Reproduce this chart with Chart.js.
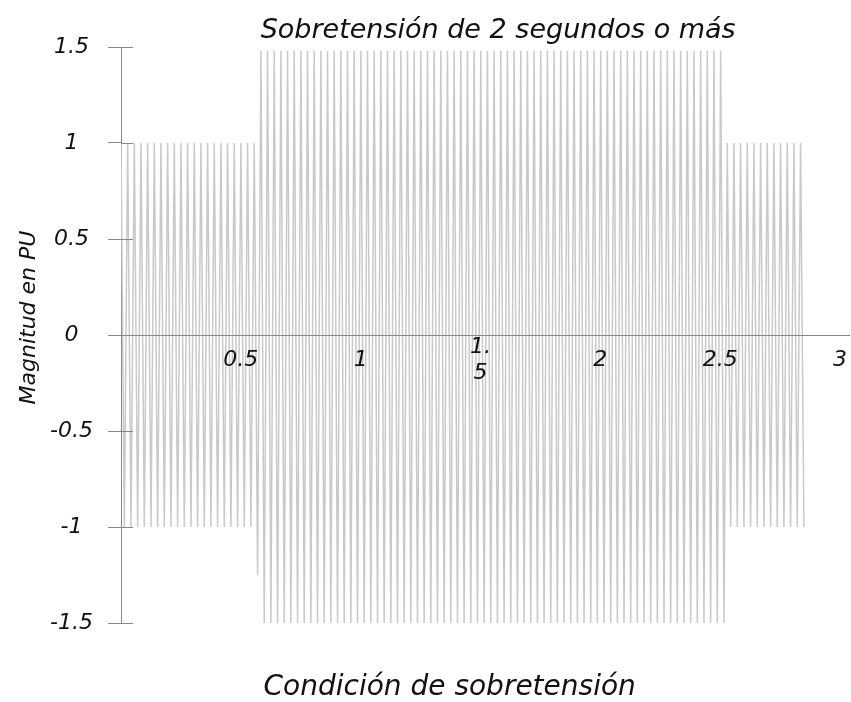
<!DOCTYPE html>
<html><head><meta charset="utf-8">
<script src="https://cdn.jsdelivr.net/npm/chart.js@4"></script>
<style>html,body{margin:0;padding:0;background:#fff}</style>
</head><body>
<canvas id="c" width="851" height="702"></canvas>
<script>
const chartTitle = '\u00A0\u00A0\u00A0Sobretensión de 2 segundos o más';
const xAxisTitle = 'Condición de sobretensión\u00A0\u00A0\u00A0\u00A0\u00A0\u00A0\u00A0\u00A0';
const yAxisTitle = '\u00A0\u00A0\u00A0\u00A0\u00A0Magnitud en PU';
const xTickValues = [0.5, 1, 1.5, 2, 2.5, 3];
const yTickValues = [-1.5, -1, -0.5, 0, 0.5, 1, 1.5];

// sample times (s)
const timeSeconds = [
 0, 0.0139, 0.0278, 0.0417, 0.0556, 0.0695, 0.0834, 0.0973, 0.1112, 0.1251,
 0.139, 0.1529, 0.1668, 0.1807, 0.1946, 0.2085, 0.2224, 0.2363, 0.2502, 0.2641,
 0.278, 0.2919, 0.3058, 0.3197, 0.3336, 0.3475, 0.3614, 0.3753, 0.3892, 0.4031,
 0.417, 0.4309, 0.4448, 0.4587, 0.4726, 0.4865, 0.5004, 0.5143, 0.5282, 0.5421,
 0.556, 0.5699, 0.5838, 0.5977, 0.6116, 0.6255, 0.6394, 0.6533, 0.6672, 0.6811,
 0.695, 0.7089, 0.7228, 0.7367, 0.7506, 0.7645, 0.7784, 0.7923, 0.8062, 0.8201,
 0.834, 0.8479, 0.8618, 0.8757, 0.8896, 0.9035, 0.9174, 0.9313, 0.9452, 0.9591,
 0.973, 0.9869, 1.0008, 1.0147, 1.0286, 1.0425, 1.0564, 1.0703, 1.0842, 1.0981,
 1.112, 1.1259, 1.1398, 1.1537, 1.1676, 1.1815, 1.1954, 1.2093, 1.2232, 1.2371,
 1.251, 1.2649, 1.2788, 1.2927, 1.3066, 1.3205, 1.3344, 1.3483, 1.3622, 1.3761,
 1.39, 1.4039, 1.4178, 1.4317, 1.4456, 1.4595, 1.4734, 1.4873, 1.5012, 1.5151,
 1.529, 1.5429, 1.5568, 1.5707, 1.5846, 1.5985, 1.6124, 1.6263, 1.6402, 1.6541,
 1.668, 1.6819, 1.6958, 1.7097, 1.7236, 1.7375, 1.7514, 1.7653, 1.7792, 1.7931,
 1.807, 1.8209, 1.8348, 1.8487, 1.8626, 1.8765, 1.8904, 1.9043, 1.9182, 1.9321,
 1.946, 1.9599, 1.9738, 1.9877, 2.0016, 2.0155, 2.0294, 2.0433, 2.0572, 2.0711,
 2.085, 2.0989, 2.1128, 2.1267, 2.1406, 2.1545, 2.1684, 2.1823, 2.1962, 2.2101,
 2.224, 2.2379, 2.2518, 2.2657, 2.2796, 2.2935, 2.3074, 2.3213, 2.3352, 2.3491,
 2.363, 2.3769, 2.3908, 2.4047, 2.4186, 2.4325, 2.4464, 2.4603, 2.4742, 2.4881,
 2.502, 2.5159, 2.5298, 2.5437, 2.5576, 2.5715, 2.5854, 2.5993, 2.6132, 2.6271,
 2.641, 2.6549, 2.6688, 2.6827, 2.6966, 2.7105, 2.7244, 2.7383, 2.7522, 2.7661,
 2.78, 2.7939, 2.8078, 2.8217, 2.8356, 2.8495
];

// magnitude (PU) at each sample time
const magnitudePU = [
 1, -1, 1, -1, 1, -1, 1, -1, 1, -1,
 1, -1, 1, -1, 1, -1, 1, -1, 1, -1,
 1, -1, 1, -1, 1, -1, 1, -1, 1, -1,
 1, -1, 1, -1, 1, -1, 1, -1, 1, -1,
 1, -1.25,
 1.48, -1.5, 1.48, -1.5, 1.48, -1.5, 1.48, -1.5, 1.48, -1.5, 1.48, -1.5, 1.48, -1.5, 1.48, -1.5, 1.48, -1.5, 1.48, -1.5,
 1.48, -1.5, 1.48, -1.5, 1.48, -1.5, 1.48, -1.5, 1.48, -1.5, 1.48, -1.5, 1.48, -1.5, 1.48, -1.5, 1.48, -1.5, 1.48, -1.5,
 1.48, -1.5, 1.48, -1.5, 1.48, -1.5, 1.48, -1.5, 1.48, -1.5, 1.48, -1.5, 1.48, -1.5, 1.48, -1.5, 1.48, -1.5, 1.48, -1.5,
 1.48, -1.5, 1.48, -1.5, 1.48, -1.5, 1.48, -1.5, 1.48, -1.5, 1.48, -1.5, 1.48, -1.5, 1.48, -1.5, 1.48, -1.5, 1.48, -1.5,
 1.48, -1.5, 1.48, -1.5, 1.48, -1.5, 1.48, -1.5, 1.48, -1.5, 1.48, -1.5, 1.48, -1.5, 1.48, -1.5, 1.48, -1.5, 1.48, -1.5,
 1.48, -1.5, 1.48, -1.5, 1.48, -1.5, 1.48, -1.5, 1.48, -1.5, 1.48, -1.5, 1.48, -1.5, 1.48, -1.5, 1.48, -1.5, 1.48, -1.5,
 1.48, -1.5, 1.48, -1.5, 1.48, -1.5, 1.48, -1.5, 1.48, -1.5, 1.48, -1.5, 1.48, -1.5, 1.48, -1.5, 1.48, -1.5, 1.48, -1.5,
 1, -1, 1, -1, 1, -1, 1, -1, 1, -1, 1, -1,
 1, -1, 1, -1, 1, -1, 1, -1, 1, -1, 1, -1
];

const FONT = "'DejaVu Sans', Verdana, sans-serif";
const AXIS_COLOR = '#878787';
const WAVE_COLOR = '#c9c9c9';
const TEXT_COLOR = '#111111';

const points = timeSeconds.map((t, i) => ({ x: t, y: magnitudePU[i] }));

const crossTicks = {
  id: 'crossTicks',
  afterDraw(chart) {
    const ys = chart.scales.y, ctx = chart.ctx, left = chart.chartArea.left;
    ctx.save();
    ctx.strokeStyle = AXIS_COLOR;
    ctx.lineWidth = 1;
    ys.ticks.forEach(t => {
      const py = Math.round(ys.getPixelForValue(t.value)) + 0.5;
      ctx.beginPath();
      ctx.moveTo(left, py);
      ctx.lineTo(left + 12, py);
      ctx.stroke();
    });
    ctx.restore();
  }
};

new Chart(document.getElementById('c'), {
  type: 'line',
  data: {
    datasets: [{
      data: points,
      borderColor: WAVE_COLOR,
      borderWidth: 1.5,
      pointRadius: 0,
      tension: 0,
      fill: false
    }]
  },
  options: {
    responsive: false,
    devicePixelRatio: 1,
    animation: false,
    layout: { padding: { left: 0, right: 1, top: 0, bottom: 0 } },
    plugins: {
      legend: { display: false },
      tooltip: { enabled: false },
      title: {
        display: true, text: chartTitle, fullSize: false, color: TEXT_COLOR,
        font: { family: FONT, size: 27, style: 'italic', weight: 'normal', lineHeight: 1 },
        padding: { top: 17, bottom: 3 }
      },
      subtitle: {
        display: true, text: xAxisTitle, position: 'bottom', fullSize: false, color: TEXT_COLOR,
        font: { family: FONT, size: 28, style: 'italic', weight: 'normal', lineHeight: 1 },
        padding: { top: 51, bottom: 0 }
      }
    },
    scales: {
      x: {
        type: 'linear',
        position: { y: 0 },
        min: 0, max: 3.04,
        grid: { display: false },
        border: { display: true, color: AXIS_COLOR, width: 1, z: 1 },
        afterBuildTicks(scale) { scale.ticks = xTickValues.map(v => ({ value: v })); },
        ticks: {
          z: 1,
          color: TEXT_COLOR, padding: 4, crossAlign: 'center', maxRotation: 0, autoSkip: false,
          font: { family: FONT, size: 22, style: 'italic' },
          callback: v => (v === 1.5 ? ['1.', '5'] : String(v))
        }
      },
      y: {
        type: 'linear',
        position: 'left',
        min: -1.5, max: 1.5,
        afterFit(scale) { scale.width = 121; },
        afterBuildTicks(scale) { scale.ticks = yTickValues.map(v => ({ value: v })); },
        grid: { drawOnChartArea: false, drawTicks: true, tickLength: 13, color: AXIS_COLOR },
        border: { display: true, color: AXIS_COLOR, width: 1 },
        ticks: {
          color: TEXT_COLOR, padding: 15, crossAlign: 'center', autoSkip: false,
          font: { family: FONT, size: 22, style: 'italic' },
          callback: v => String(v)
        },
        title: {
          display: true, text: yAxisTitle, color: TEXT_COLOR,
          font: { family: FONT, size: 22, style: 'italic' },
          padding: { top: 16, bottom: 0 }
        }
      }
    }
  },
  plugins: [crossTicks]
});
</script>
</body></html>
